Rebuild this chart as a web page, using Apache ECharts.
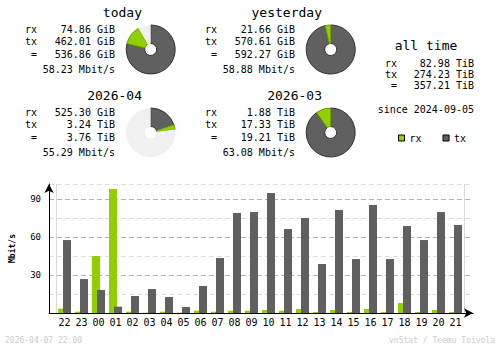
<!DOCTYPE html>
<html>
<head>
<meta charset="utf-8">
<script src="https://cdn.jsdelivr.net/npm/echarts@6/dist/echarts.min.js"></script>
<style>html,body{margin:0;padding:0;background:#fff}#c{width:500px;height:348px}</style>
</head>
<body>
<div id="c"></div>
<script>
// ---- data ----
var hours = ['22','23','00','01','02','03','04','05','06','07','08','09','10','11','12','13','14','15','16','17','18','19','20','21'];
var rxRate = [3.4,1,45,97.9,1,0.3,1,0.3,1.8,1,1.8,1.8,2.4,1.8,3.2,0.8,2.4,0.8,3.2,0.8,7.9,0.8,2.4,0.8];
var txRate = [57.6,26.8,18.2,5,13.4,18.9,12.6,4.7,21.3,43.4,79,79.7,94.7,66.3,75,38.7,81.3,42.6,85.3,42.6,68.7,57.6,79.7,69.5];
var yTicks = [30,60,90];

var periods = ['today','yesterday','2026-04','2026-03'];
var rxText = ['74.86 GiB','21.66 GiB','525.30 GiB','1.88 TiB'];
var txText = ['462.01 GiB','570.61 GiB','3.24 TiB','17.33 TiB'];
var totalText = ['536.86 GiB','592.27 GiB','3.76 TiB','19.21 TiB'];
var rateText = ['58.23 Mbit/s','58.88 Mbit/s','55.29 Mbit/s','63.08 Mbit/s'];
var rxGiB = [74.86, 21.66, 525.30, 1.88*1024];
var txGiB = [462.01, 570.61, 3.24*1024, 17.33*1024];
var elapsed = [22/24, 1, 166/720, 1]; // share of period elapsed

var allTimeRows = [['rx','82.98 TiB'],['tx','274.23 TiB'],['=','357.21 TiB']];
var sinceText = 'since 2024-09-05';
var footerLeft = '2026-04-07 22:00';
var footerRight = 'vnStat / Teemu Toivola';

// ---- styles ----
var RX = '#92CF00', TX = '#606060', REST = '#f0f0f0';
var MONO = '"DejaVu Sans Mono", monospace';

var graphics = [];
function txt(s, x, y, size, align, color, weight) {
  graphics.push({type:'text', silent:true, style:{text:s, x:x, y:y, fill:color||'#000',
    font:(weight||'normal')+' '+size+'px '+MONO, align:align||'left', verticalAlign:'middle'}});
}

var blockPos = [[0,0],[180,0],[0,83],[180,83]];
var pies = [];
periods.forEach(function(p, i){
  var dx = blockPos[i][0], dy = blockPos[i][1];
  txt(p, 142+dx, 12+dy, 13, 'right');
  var labs = ['rx','tx','='], vals = [rxText[i], txText[i], totalText[i]];
  for (var k=0;k<3;k++){
    txt(labs[k], 37+dx, 29.5+dy+k*12.4, 10, 'right');
    txt(vals[k], 115+dx, 29.5+dy+k*12.4, 10, 'right');
  }
  txt(rateText[i], 115+dx, 69+dy, 10, 'right');
  var tot = rxGiB[i]+txGiB[i];
  var rest = tot*(1/elapsed[i]-1);
  var d = [
    {name:'p-tx', value:txGiB[i], itemStyle:{color:TX, borderColor:'#303030', borderWidth:1}},
    {name:'p-rx', value:rxGiB[i], itemStyle:{color:RX, borderColor:'#6f9e00', borderWidth:1}}
  ];
  if (rest > 0) d.push({name:'p-rest', value:rest, itemStyle:{color:REST, borderWidth:0}});
  pies.push({type:'pie', silent:true, center:[150.7+dx, 49.5+dy], radius:[6,24.5],
    startAngle:90, clockwise:true, label:{show:false}, labelLine:{show:false},
    emphasis:{disabled:true}, animation:false, data:d, z:5});
});

// all time panel
txt('all time', 426, 45, 13, 'center');
allTimeRows.forEach(function(r, k){
  txt(r[0], 397, 63+k*11, 10, 'right');
  txt(r[1], 474, 63+k*11, 10, 'right');
});
txt(sinceText, 474, 109, 10, 'right');
txt(footerLeft, 5, 340, 8, 'left', '#cccccc');
txt(footerRight, 495, 340, 8, 'right', '#cccccc');

var TOP = 184, H = 129, YMAX = H*30/38;

var chart = echarts.init(document.getElementById('c'), null, {renderer:'svg'});
chart.setOption({
  animation:false,
  backgroundColor:'#fff',
  legend:{data:['rx','tx'], left:398, top:133, itemWidth:6, itemHeight:6, itemGap:21,
    icon:'rect', selectedMode:false, padding:0,
    itemStyle:{borderColor:'#000', borderWidth:1},
    textStyle:{fontFamily:MONO, fontSize:10, color:'#000', padding:[0,0,0,0]}},
  grid:[
    {left:48, width:425, top:TOP, height:H},
    {left:56, width:408, top:TOP, height:H}
  ],
  xAxis:[
    {gridIndex:0, type:'value', min:0, max:1, axisLabel:{show:false}, axisTick:{show:false}, splitLine:{show:false},
     axisLine:{show:true, symbol:['none','arrow'], symbolSize:[7,9], lineStyle:{color:'#000', width:1}}},
    {gridIndex:1, type:'category', data:hours, axisLine:{show:false}, axisTick:{show:false},
     axisLabel:{fontFamily:MONO, fontSize:10, color:'#000', margin:4, interval:0},
     splitLine:{show:true, interval:function(i){return i===2;}, lineStyle:{color:'#dadada', width:1}}}
  ],
  yAxis:[
    {gridIndex:0, type:'value', min:0, max:YMAX, interval:15,
     name:'Mbit/s', nameLocation:'middle', nameGap:33, nameRotate:90,
     nameTextStyle:{fontFamily:MONO, fontSize:8, fontWeight:'bold', color:'#000'},
     axisLine:{show:true, symbol:['none','arrow'], symbolSize:[7,9], lineStyle:{color:'#000', width:1}},
     axisTick:{show:false},
     axisLabel:{fontFamily:MONO, fontSize:9, color:'#000', margin:8,
       formatter:function(v){return yTicks.indexOf(v)>=0 ? String(v) : '';}},
     splitLine:{show:true, lineStyle:{color:['#b4b4b4','#dedede'], type:[5,3], width:1}}},
    {gridIndex:1, type:'value', min:0, max:YMAX, show:false, splitLine:{show:false}}
  ],
  series:[
    {name:'rx', type:'bar', xAxisIndex:1, yAxisIndex:1, data:rxRate, barWidth:8, barGap:'-37.5%',
     itemStyle:{color:RX}, silent:true, z:2},
    {name:'tx', type:'bar', xAxisIndex:1, yAxisIndex:1, data:txRate, barWidth:8, barGap:'-37.5%',
     itemStyle:{color:TX}, silent:true, z:3}
  ].concat(pies),
  graphic:graphics
});
</script>
</body>
</html>
